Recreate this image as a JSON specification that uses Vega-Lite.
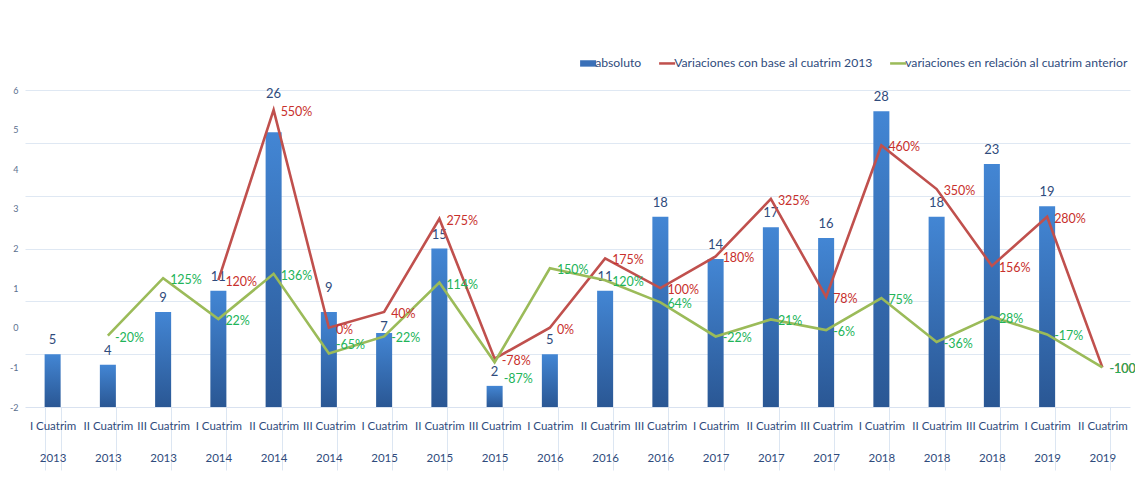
{
  "$schema": "https://vega.github.io/schema/vega-lite/v6.json",
  "autosize": "none",
  "width": 1105,
  "height": 317,
  "padding": {"left": 25, "top": 90, "right": 5, "bottom": 71},
  "background": "white",
  "config": {
    "view": {"stroke": null},
    "font": "Lato, sans-serif",
    "locale": {"number": {"decimal": ".", "thousands": ",", "grouping": [3], "currency": ["$", ""], "minus": "-"}}
  },
  "datasets": {
    "abs": [
      {"cat": "I Cuatrim|2013", "v": 5},
      {"cat": "II Cuatrim|2013", "v": 4},
      {"cat": "III Cuatrim|2013", "v": 9},
      {"cat": "I Cuatrim|2014", "v": 11},
      {"cat": "II Cuatrim|2014", "v": 26},
      {"cat": "III Cuatrim|2014", "v": 9},
      {"cat": "I Cuatrim|2015", "v": 7},
      {"cat": "II Cuatrim|2015", "v": 15},
      {"cat": "III Cuatrim|2015", "v": 2},
      {"cat": "I Cuatrim|2016", "v": 5},
      {"cat": "II Cuatrim|2016", "v": 11},
      {"cat": "III Cuatrim|2016", "v": 18},
      {"cat": "I Cuatrim|2017", "v": 14},
      {"cat": "II Cuatrim|2017", "v": 17},
      {"cat": "III Cuatrim|2017", "v": 16},
      {"cat": "I Cuatrim|2018", "v": 28},
      {"cat": "II Cuatrim|2018", "v": 18},
      {"cat": "III Cuatrim|2018", "v": 23},
      {"cat": "I Cuatrim|2019", "v": 19}
    ],
    "var": [
      {"cat": "I Cuatrim|2014", "serie": "Variaciones con base al cuatrim 2013", "pct": 1.2},
      {"cat": "II Cuatrim|2014", "serie": "Variaciones con base al cuatrim 2013", "pct": 5.5},
      {"cat": "III Cuatrim|2014", "serie": "Variaciones con base al cuatrim 2013", "pct": 0},
      {"cat": "I Cuatrim|2015", "serie": "Variaciones con base al cuatrim 2013", "pct": 0.4},
      {"cat": "II Cuatrim|2015", "serie": "Variaciones con base al cuatrim 2013", "pct": 2.75},
      {"cat": "III Cuatrim|2015", "serie": "Variaciones con base al cuatrim 2013", "pct": -0.78},
      {"cat": "I Cuatrim|2016", "serie": "Variaciones con base al cuatrim 2013", "pct": 0},
      {"cat": "II Cuatrim|2016", "serie": "Variaciones con base al cuatrim 2013", "pct": 1.75},
      {"cat": "III Cuatrim|2016", "serie": "Variaciones con base al cuatrim 2013", "pct": 1.0},
      {"cat": "I Cuatrim|2017", "serie": "Variaciones con base al cuatrim 2013", "pct": 1.8},
      {"cat": "II Cuatrim|2017", "serie": "Variaciones con base al cuatrim 2013", "pct": 3.25},
      {"cat": "III Cuatrim|2017", "serie": "Variaciones con base al cuatrim 2013", "pct": 0.78},
      {"cat": "I Cuatrim|2018", "serie": "Variaciones con base al cuatrim 2013", "pct": 4.6},
      {"cat": "II Cuatrim|2018", "serie": "Variaciones con base al cuatrim 2013", "pct": 3.5},
      {"cat": "III Cuatrim|2018", "serie": "Variaciones con base al cuatrim 2013", "pct": 1.56},
      {"cat": "I Cuatrim|2019", "serie": "Variaciones con base al cuatrim 2013", "pct": 2.8},
      {"cat": "II Cuatrim|2019", "serie": "Variaciones con base al cuatrim 2013", "pct": -1.0},
      {"cat": "II Cuatrim|2013", "serie": "variaciones en relación al cuatrim anterior", "pct": -0.2},
      {"cat": "III Cuatrim|2013", "serie": "variaciones en relación al cuatrim anterior", "pct": 1.25},
      {"cat": "I Cuatrim|2014", "serie": "variaciones en relación al cuatrim anterior", "pct": 0.22},
      {"cat": "II Cuatrim|2014", "serie": "variaciones en relación al cuatrim anterior", "pct": 1.36},
      {"cat": "III Cuatrim|2014", "serie": "variaciones en relación al cuatrim anterior", "pct": -0.65},
      {"cat": "I Cuatrim|2015", "serie": "variaciones en relación al cuatrim anterior", "pct": -0.22},
      {"cat": "II Cuatrim|2015", "serie": "variaciones en relación al cuatrim anterior", "pct": 1.14},
      {"cat": "III Cuatrim|2015", "serie": "variaciones en relación al cuatrim anterior", "pct": -0.87},
      {"cat": "I Cuatrim|2016", "serie": "variaciones en relación al cuatrim anterior", "pct": 1.5},
      {"cat": "II Cuatrim|2016", "serie": "variaciones en relación al cuatrim anterior", "pct": 1.2},
      {"cat": "III Cuatrim|2016", "serie": "variaciones en relación al cuatrim anterior", "pct": 0.64},
      {"cat": "I Cuatrim|2017", "serie": "variaciones en relación al cuatrim anterior", "pct": -0.22},
      {"cat": "II Cuatrim|2017", "serie": "variaciones en relación al cuatrim anterior", "pct": 0.21},
      {"cat": "III Cuatrim|2017", "serie": "variaciones en relación al cuatrim anterior", "pct": -0.06},
      {"cat": "I Cuatrim|2018", "serie": "variaciones en relación al cuatrim anterior", "pct": 0.75},
      {"cat": "II Cuatrim|2018", "serie": "variaciones en relación al cuatrim anterior", "pct": -0.36},
      {"cat": "III Cuatrim|2018", "serie": "variaciones en relación al cuatrim anterior", "pct": 0.28},
      {"cat": "I Cuatrim|2019", "serie": "variaciones en relación al cuatrim anterior", "pct": -0.17},
      {"cat": "II Cuatrim|2019", "serie": "variaciones en relación al cuatrim anterior", "pct": -1.0}
    ]
  },
  "encoding": {
    "x": {
      "field": "cat",
      "type": "nominal",
      "title": null,
      "scale": {
        "domain": ["I Cuatrim|2013", "II Cuatrim|2013", "III Cuatrim|2013", "I Cuatrim|2014", "II Cuatrim|2014", "III Cuatrim|2014", "I Cuatrim|2015", "II Cuatrim|2015", "III Cuatrim|2015", "I Cuatrim|2016", "II Cuatrim|2016", "III Cuatrim|2016", "I Cuatrim|2017", "II Cuatrim|2017", "III Cuatrim|2017", "I Cuatrim|2018", "II Cuatrim|2018", "III Cuatrim|2018", "I Cuatrim|2019", "II Cuatrim|2019"],
        "paddingInner": 0.71,
        "paddingOuter": 0.355
      },
      "axis": {
        "labelExpr": "split(datum.label, '|')",
        "labelAngle": 0,
        "labelFontSize": 11.5,
        "labelColor": "#2F4B7C",
        "labelLineHeight": 32,
        "labelBaseline": "top",
        "labelPadding": -50,
        "tickBand": "extent",
        "tickSize": 63,
        "tickColor": "#DCE6F2",
        "domainColor": "#D9E2F0",
        "labelLimit": 0,
        "labelOverlap": false
      }
    }
  },
  "layer": [
    {
      "data": {"name": "abs"},
      "encoding": {
        "y": {
          "field": "v",
          "type": "quantitative",
          "title": null,
          "scale": {"domain": [0, 30], "nice": false, "zero": true},
          "axis": {"orient": "right", "labels": false, "ticks": false, "domain": false, "grid": true, "gridColor": "#DFE8F3", "values": [5, 10, 15, 20, 25, 30]}
        },
        "text": {"field": "v", "type": "quantitative"}
      },
      "layer": [
        {
          "mark": {
            "type": "bar",
            "color": {"gradient": "linear", "x1": 0, "y1": 0, "x2": 0, "y2": 1, "stops": [{"offset": 0, "color": "#4386D4"}, {"offset": 1, "color": "#2A5794"}]}
          },
          "encoding": {"text": null}
        },
        {
          "transform": [{"filter": "datum.cat !== 'II Cuatrim|2014' && datum.cat !== 'III Cuatrim|2014' && datum.cat !== 'I Cuatrim|2015'"}],
          "mark": {"type": "text", "dy": -14, "baseline": "middle", "fontSize": 13, "color": "#2F4B7C"}
        },
        {
          "transform": [{"filter": "datum.cat === 'II Cuatrim|2014'"}],
          "mark": {"type": "text", "dy": -38, "baseline": "middle", "fontSize": 13, "color": "#2F4B7C"}
        },
        {
          "transform": [{"filter": "datum.cat === 'III Cuatrim|2014'"}],
          "mark": {"type": "text", "dy": -24, "baseline": "middle", "fontSize": 13, "color": "#2F4B7C"}
        },
        {
          "transform": [{"filter": "datum.cat === 'I Cuatrim|2015'"}],
          "mark": {"type": "text", "dy": -6, "baseline": "middle", "fontSize": 13, "color": "#2F4B7C"}
        }
      ]
    },
    {
      "data": {"name": "var"},
      "encoding": {
        "y": {
          "field": "pct",
          "type": "quantitative",
          "title": null,
          "scale": {"domain": [-2, 6], "nice": false, "zero": false},
          "axis": {"orient": "left", "values": [-2, -1, 0, 1, 2, 3, 4, 5, 6], "format": "d", "grid": false, "ticks": false, "domain": false, "labelFontSize": 9, "labelColor": "#5B6F8E", "labelPadding": 7}
        },
        "text": {"field": "pct", "type": "quantitative", "format": ".0%"},
        "fill": {
          "field": "serie",
          "type": "nominal",
          "scale": {"domain": ["Variaciones con base al cuatrim 2013", "variaciones en relación al cuatrim anterior"], "range": ["#C8302C", "#22B459"]},
          "legend": null
        }
      },
      "layer": [
        {
          "mark": {"type": "line", "strokeWidth": 2.6},
          "encoding": {
            "text": null,
            "fill": null,
            "color": {
              "field": "serie",
              "type": "nominal",
              "scale": {"domain": ["absoluto", "Variaciones con base al cuatrim 2013", "variaciones en relación al cuatrim anterior"], "range": ["#3A70B8", "#C0504D", "#9BBB59"]},
              "legend": {
                "title": null,
                "orient": "none",
                "legendX": 557,
                "legendY": -33,
                "direction": "horizontal",
                "symbolType": "stroke",
                "symbolSize": 256,
                "symbolStrokeWidth": 2.5,
                "labelFontSize": 12.2,
                "labelColor": "#2F4B7C",
                "labelOffset": 1,
                "columnPadding": 12,
                "labelLimit": 0,
                "encode": {
                  "symbols": {
                    "update": {
                      "shape": {"signal": "datum.value === 'absoluto' ? 'M-1,-0.4H1V0.4H-1Z' : 'stroke'"},
                      "fill": {"signal": "datum.value === 'absoluto' ? '#3A70B8' : 'transparent'"},
                      "strokeWidth": {"signal": "datum.value === 'absoluto' ? 0 : 2.5"}
                    }
                  }
                }
              }
            }
          }
        },
        {
          "transform": [{"filter": "datum.cat !== 'III Cuatrim|2014' && datum.cat !== 'III Cuatrim|2015' || datum.serie === 'Variaciones con base al cuatrim 2013'"}],
          "mark": {"type": "text", "align": "left", "baseline": "middle", "dx": 7, "dy": 2, "fontSize": 12.5}
        },
        {
          "transform": [{"filter": "datum.cat === 'III Cuatrim|2014' && datum.serie === 'variaciones en relación al cuatrim anterior'"}],
          "mark": {"type": "text", "align": "left", "baseline": "middle", "dx": 7, "dy": -9, "fontSize": 12.5}
        },
        {
          "transform": [{"filter": "datum.cat === 'III Cuatrim|2015' && datum.serie === 'variaciones en relación al cuatrim anterior'"}],
          "mark": {"type": "text", "align": "left", "baseline": "middle", "dx": 9, "dy": 17, "fontSize": 12.5}
        }
      ]
    }
  ],
  "resolve": {"scale": {"y": "independent"}}
}
